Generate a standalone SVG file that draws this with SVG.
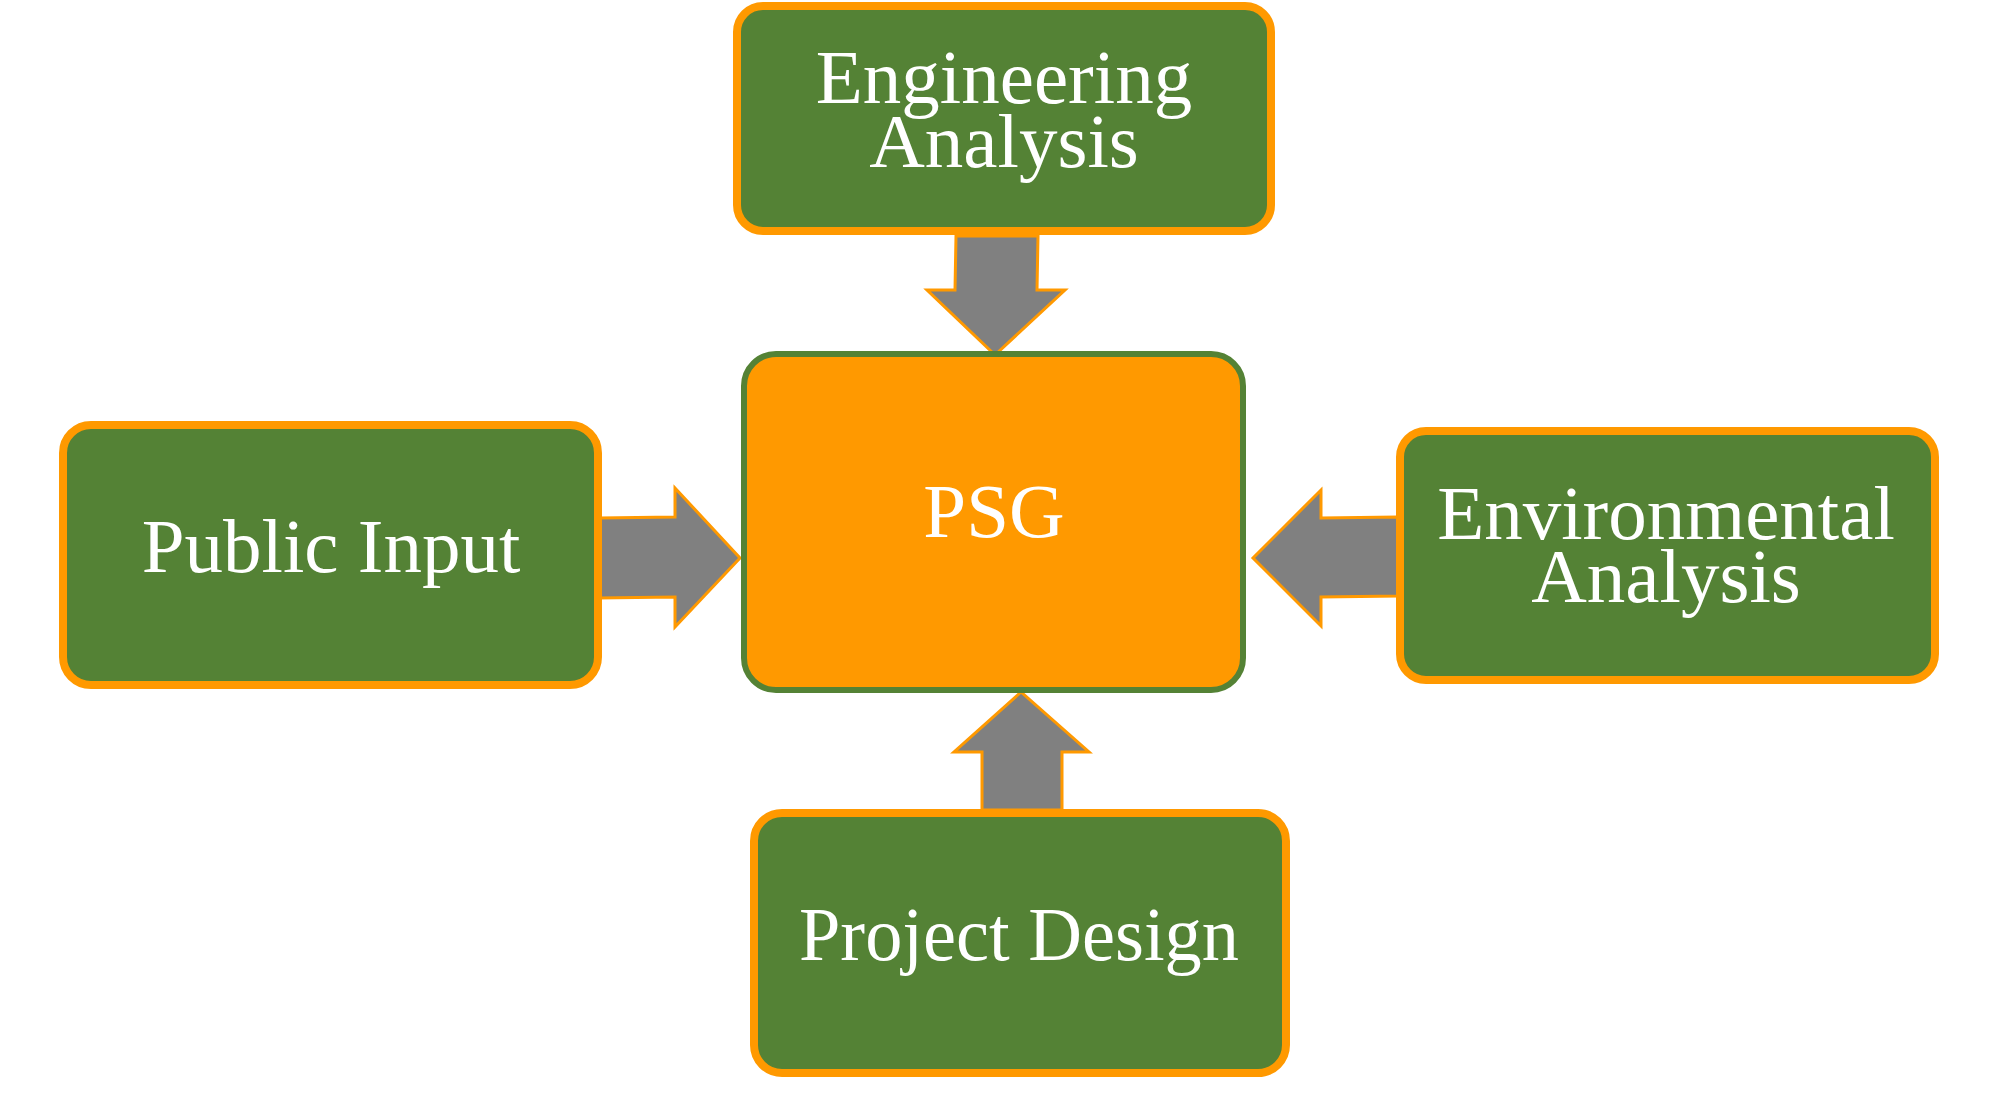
<svg xmlns="http://www.w3.org/2000/svg" width="2000" height="1116" viewBox="0 0 2000 1116">
<style>
.node{fill:#548235;stroke:#FF9900;stroke-width:8}
.center{fill:#FF9900;stroke:#548235;stroke-width:6}
.arrow{fill:#808080;stroke:#FF9900;stroke-width:3;stroke-linejoin:miter}
.label{font-family:"Liberation Serif","DejaVu Serif",serif;font-size:77px;fill:#FFFFFF;text-anchor:middle}
</style>
<rect width="2000" height="1116" fill="#FFFFFF"/>
<g id="connectors">
<polygon class="arrow" points="956,236 1038,236 1037,290 1065,290 995,355 927,290 955,290"/>
<polygon class="arrow" points="599,518 675,517 675,488 740,558 675,627 675,597 599,598"/>
<polygon class="arrow" points="1398,517 1321,518 1321,490 1253,558 1321,626 1321,597 1398,596"/>
<polygon class="arrow" points="982,810 982,752 954,752 1021,692 1089,752 1062,752 1062,810"/>
</g>
<g id="engineering">
<rect class="node" x="737" y="6" width="534" height="225" rx="26"/>
<text class="label"><tspan x="1004" y="103">Engineering</tspan><tspan x="1004" y="167">Analysis</tspan></text>
</g>
<g id="psg">
<rect class="center" x="744" y="354" width="499" height="336" rx="32"/>
<text class="label" x="994" y="537">PSG</text>
</g>
<g id="public-input">
<rect class="node" x="63" y="425" width="535" height="260" rx="28"/>
<text class="label" x="331" y="572">Public Input</text>
</g>
<g id="environmental">
<rect class="node" x="1400" y="431" width="535" height="249" rx="26"/>
<text class="label"><tspan x="1666" y="539">Environmental</tspan><tspan x="1666" y="602">Analysis</tspan></text>
</g>
<g id="project-design">
<rect class="node" x="754" y="813" width="532" height="260" rx="28"/>
<text class="label" x="1019" y="960" textLength="440" lengthAdjust="spacingAndGlyphs">Project Design</text>
</g>
</svg>
